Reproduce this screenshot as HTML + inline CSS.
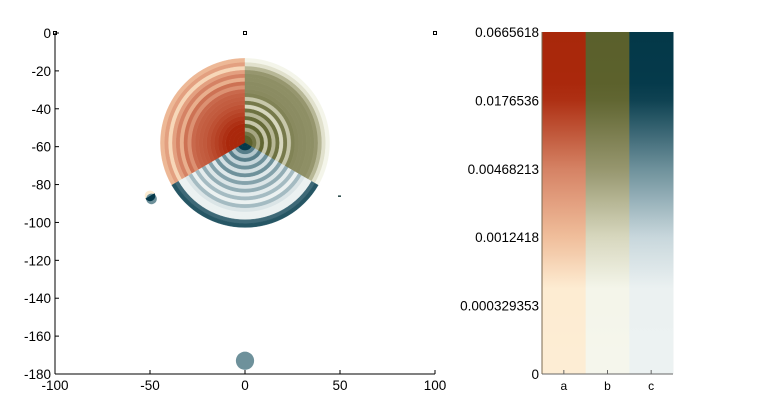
<!DOCTYPE html>
<html><head><meta charset="utf-8"><style>
body{margin:0;background:#fff;}
svg{display:block;font-family:"Liberation Sans",sans-serif;font-size:13.5px;}
</style></head><body>
<svg id="chart" width="763" height="420" viewBox="0 0 763 420" xmlns="http://www.w3.org/2000/svg">
<g id="plot"></g>
<g id="axes"></g>
<g id="cbar"></g>
</svg>
<script>
const xTicks=[-100,-50,0,50,100];
const yTicks=[0,-20,-40,-60,-80,-100,-120,-140,-160,-180];
const seriesNames=['a','b','c'];
const cbarLabels=['0.0665618','0.0176536','0.00468213','0.0012418','0.000329353','0'];
const pieCenter=[0,-58];
const pieRadius=44.5;
const sliceStart=[90,-30,210];
const sliceEnd=[210,90,330];
const ringsA=[0.98,0.94,0.9,0.86,0.83,0.8,0.78,0.76,0.74,0.72,0.7,0.69,0.68,0.66,0.55,0.64,0.45,0.6,0.5,0.32,0.5,0.42];
const ringsB=[0.88,0.82,0.74,0.55,0.8,0.45,0.78,0.5,0.75,0.4,0.72,0.45,0.68,0.65,0.64,0.64,0.63,0.63,0.6,0.5,0.35,0.2];
const ringsC=[0.92,0.85,0.65,0.45,0.65,0.4,0.6,0.35,0.6,0.3,0.55,0.32,0.52,0.28,0.48,0.22,0.48,0.32,0.2,0.2,0.7,0.75];
const extraCircles=[[0,-173,4.8,'c',0.6],[-50,-86,2.8,'a',0.05]];
const markers=[[0,0],[100,0],[-100,0]];

const NS='http://www.w3.org/2000/svg';
const X0=55,X1=435,Y0=33,Y1=374;
const xs=v=>X0+(v+100)/200*(X1-X0);
const ys=v=>Y0+(0-v)/180*(Y1-Y0);
const rpx=r=>r*(X1-X0)/200;
function mk(t,a,p){const e=document.createElementNS(NS,t);for(const k in a)e.setAttribute(k,a[k]);p.appendChild(e);return e;}
const maps={
a:[[0,[253,237,212]],[0.25,[253,236,210]],[0.4,[240,190,155]],[0.6,[213,130,100]],[0.82,[170,40,12]],[1,[168,40,10]]],
b:[[0,[245,246,236]],[0.25,[244,245,234]],[0.4,[215,215,190]],[0.6,[150,150,110]],[0.82,[92,97,44]],[1,[90,96,44]]],
c:[[0,[236,242,242]],[0.25,[235,241,241]],[0.4,[200,215,220]],[0.6,[110,145,155]],[0.82,[5,58,75]],[1,[4,56,72]]]};
function cmap(s,t){const m=maps[s];for(let i=1;i<m.length;i++){if(t<=m[i][0]){const f=(t-m[i-1][0])/(m[i][0]-m[i-1][0]);const c=m[i-1][1].map((v,j)=>Math.round(v+(m[i][1][j]-v)*f));return `rgb(${c})`;}}return `rgb(${m[m.length-1][1]})`;}
function sector(cx,cy,r0,r1,a0,a1){const p=(r,a)=>[cx+r*Math.cos(a*Math.PI/180),cy-r*Math.sin(a*Math.PI/180)];
const [x1,y1]=p(r1,a0),[x2,y2]=p(r1,a1),[x3,y3]=p(r0,a1),[x4,y4]=p(r0,a0);const lg=(a1-a0)>180?1:0;
return `M${x1},${y1}A${r1},${r1} 0 ${lg} 0 ${x2},${y2}L${x3},${y3}`+(r0>0?`A${r0},${r0} 0 ${lg} 1 ${x4},${y4}Z`:'Z');}
const plot=document.getElementById('plot');
const cx=xs(pieCenter[0]),cy=ys(pieCenter[1]);
[ringsA,ringsB,ringsC].forEach((rings,si)=>{
 const g=mk('g',{},plot);
 
 
 const R=rpx(pieRadius);
 rings.forEach((v,i)=>{
  const p=mk('path',{d:sector(cx,cy,R*i/rings.length,R*(i+1)/rings.length,sliceStart[si],sliceEnd[si]),fill:cmap(seriesNames[si],v),stroke:cmap(seriesNames[si],v),'stroke-width':0.4},g);
  
  
 });
});
extraCircles.forEach((c,i)=>{
 const e=mk('circle',{cx:xs(c[0]),cy:ys(c[1]),r:rpx(c[2]),fill:cmap(c[3],c[4])},plot);
 
 
});
{const c=extraCircles[1];
const b=mk('circle',{cx:xs(c[0])+1.5,cy:ys(c[1])+3,r:rpx(c[2]),fill:cmap('c',0.6)},plot);

plot.insertBefore(b,plot.lastChild);
const e=mk('path',{d:sector(xs(c[0]),ys(c[1]),0,rpx(c[2]),210,390),fill:cmap('c',0.9)},plot);
}
{const e=mk('rect',{x:xs(50)-2,y:ys(-86)-0.5,width:3,height:1.5,fill:'#244'},plot);}
markers.forEach((m,i)=>{const e=mk('rect',{x:xs(m[0])-1.5,y:ys(m[1])-1.5,width:3,height:3,fill:'none',stroke:'#000','stroke-width':1},plot);
});
const ax=document.getElementById('axes');
{let e=mk('line',{x1:X0,y1:Y0,x2:X0,y2:Y1,stroke:'#000'},ax);
e=mk('line',{x1:X0,y1:Y1,x2:X1,y2:Y1,stroke:'#000'},ax);}
yTicks.forEach(v=>{const y=ys(v);mk('line',{x1:X0,y1:y,x2:X0+4,y2:y,stroke:'#000'},ax);
const t=mk('text',{x:X0-4,y:y+5,'text-anchor':'end'},ax);t.textContent=v;});
xTicks.forEach(v=>{const x=xs(v);mk('line',{x1:x,y1:Y1,x2:x,y2:Y1-4,stroke:'#000'},ax);
const t=mk('text',{x:x,y:Y1+16,'text-anchor':'middle'},ax);t.textContent=v;});
const cb=document.getElementById('cbar');
const CX0=542,CX1=673,CY0=32,CY1=374,cw=(CX1-CX0)/3;
const defs=mk('defs',{},cb);
seriesNames.forEach((s,i)=>{const gr=mk('linearGradient',{id:'g'+s,x1:0,y1:1,x2:0,y2:0},defs);
for(let k=0;k<=20;k++){mk('stop',{offset:k/20,'stop-color':cmap(s,k/20)},gr);}
const r=mk('rect',{x:CX0+i*cw,y:CY0,width:cw+0.5,height:CY1-CY0,fill:`url(#g${s})`},cb);

mk('line',{x1:CX0+(i+0.5)*cw,y1:CY1,x2:CX0+(i+0.5)*cw,y2:CY1-4,stroke:'#666'},cb);
const t=mk('text',{x:CX0+(i+0.5)*cw,y:CY1+16,'text-anchor':'middle','font-size':'12px'},cb);t.textContent=s;});
mk('line',{x1:CX0,y1:CY0,x2:CX0,y2:CY1,stroke:'#7a6a50'},cb);
mk('line',{x1:CX0,y1:CY1,x2:CX1,y2:CY1,stroke:'#666'},cb);
cbarLabels.forEach((l,i)=>{const y=CY0+i*(CY1-CY0)/(cbarLabels.length-1);
const t=mk('text',{x:CX0-3,y:y+5,'text-anchor':'end'},cb);t.textContent=l;});
</script>
</body></html>
